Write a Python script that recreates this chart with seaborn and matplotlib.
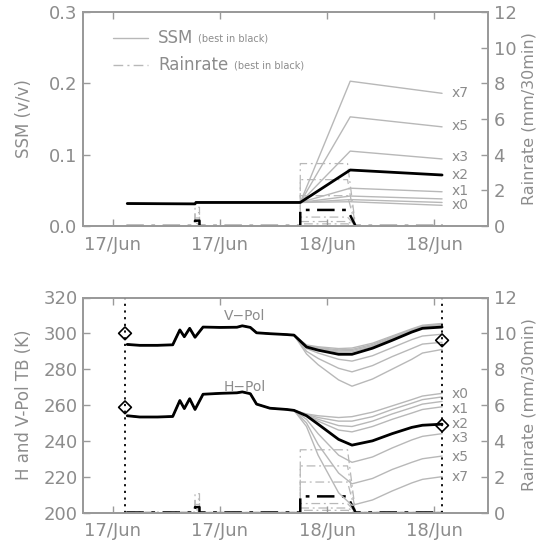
import numpy as np
import pandas as pd
import matplotlib
matplotlib.use('Agg')
import matplotlib.pyplot as plt
from matplotlib.lines import Line2D
import seaborn as sns

# time axis: hours since 17/Jun 00:00
tick_hours = [0, 12, 24, 36]
tick_labels = ['17/Jun', '17/Jun', '18/Jun', '18/Jun']

factors = ['x0', 'x0.25', 'x0.5', 'x1', 'x2', 'x3', 'x5', 'x7']
best = 'x2'
labelled = ['x0', 'x1', 'x2', 'x3', 'x5', 'x7']

# --- SSM (v/v)
ssm_t = [1.6, 9.2, 9.3, 21.0, 26.6, 36.9]
ssm = {
    'x0':    [0.0315, 0.031, 0.033, 0.033, 0.034, 0.029],
    'x0.25': [0.0315, 0.031, 0.033, 0.033, 0.037, 0.033],
    'x0.5':  [0.0315, 0.031, 0.033, 0.033, 0.042, 0.038],
    'x1':    [0.0315, 0.031, 0.033, 0.033, 0.053, 0.048],
    'x2':    [0.0315, 0.031, 0.033, 0.033, 0.0785, 0.0715],
    'x3':    [0.0315, 0.031, 0.033, 0.033, 0.105, 0.094],
    'x5':    [0.0315, 0.031, 0.033, 0.033, 0.153, 0.139],
    'x7':    [0.0315, 0.031, 0.033, 0.033, 0.203, 0.186],
}

# --- rainrate (mm/30min): small shower ~9h, storm 21h-26h
rain_t = [1.5, 9.2, 9.2, 9.7, 9.7, 21.0, 21.0, 26.3, 27.2, 37.0]
rain_early = {'x0': 0.0, 'x0.25': 0.04, 'x0.5': 0.08, 'x1': 0.15, 'x2': 0.3,
              'x3': 0.45, 'x5': 0.75, 'x7': 1.05}
rain_storm = {'x0': 0.0, 'x0.25': 0.12, 'x0.5': 0.25, 'x1': 0.5, 'x2': 0.9,
              'x3': 1.7, 'x5': 2.6, 'x7': 3.5}

# --- brightness temperatures (K), same for all runs before the storm
pre_t = [1.6, 3.0, 5.0, 6.7, 7.5, 8.0, 8.6, 9.2, 10.1, 12.0, 13.9, 14.5, 15.4, 16.1, 17.6, 19.5]
v_pre = [293.8, 293.3, 293.3, 293.6, 301.9, 298.1, 302.8, 297.8, 303.5, 303.3, 303.4, 304.2, 303.3, 300.3, 299.8, 299.3]
h_pre = [254.0, 253.3, 253.3, 253.6, 262.5, 258.0, 263.5, 257.5, 266.0, 266.5, 266.8, 267.3, 266.3, 260.5, 258.2, 257.5]

post_t = [20.3, 21.7, 23.0, 25.3, 26.8, 29.1, 31.3, 33.5, 34.7, 36.9]
v_post = {
    'x0':    [299, 293.5, 292.5, 291.5, 291.8, 294.5, 298.5, 302.5, 304.5, 305.5],
    'x0.25': [299, 293.2, 292.0, 290.8, 291.0, 293.8, 298.0, 302.0, 304.0, 305.2],
    'x0.5':  [299, 293.0, 291.6, 290.2, 290.4, 293.2, 297.5, 301.7, 303.7, 304.9],
    'x1':    [299, 292.8, 291.2, 289.5, 289.6, 292.6, 297.0, 301.3, 303.3, 304.5],
    'x2':    [299, 292.4, 290.6, 288.3, 288.3, 291.7, 296.1, 300.7, 302.8, 303.5],
    'x3':    [299, 291.5, 289.0, 285.5, 284.5, 287.5, 292.0, 296.5, 298.5, 299.5],
    'x5':    [299, 290.0, 286.0, 280.5, 278.5, 282.0, 287.0, 291.5, 294.0, 295.0],
    'x7':    [299, 288.5, 282.5, 274.0, 270.5, 274.5, 280.0, 285.5, 289.0, 291.0],
}
h_post = {
    'x0':    [257, 255.0, 254.0, 253.0, 253.5, 256.0, 259.5, 263.0, 265.0, 266.5],
    'x0.25': [257, 254.8, 253.0, 251.0, 251.0, 253.5, 257.5, 261.0, 263.0, 264.5],
    'x0.5':  [257, 254.5, 252.0, 248.5, 248.0, 251.0, 255.0, 258.5, 260.5, 262.0],
    'x1':    [257, 254.3, 251.0, 246.0, 245.0, 248.0, 252.0, 255.5, 257.5, 259.0],
    'x2':    [257, 254.0, 249.3, 240.8, 237.6, 240.0, 244.0, 247.5, 248.7, 249.3],
    'x3':    [257, 252.0, 244.0, 232.0, 228.0, 231.0, 236.0, 240.5, 242.5, 244.0],
    'x5':    [257, 250.0, 238.0, 222.0, 216.0, 219.0, 224.0, 228.0, 230.0, 231.5],
    'x7':    [257, 248.0, 232.0, 211.0, 204.0, 207.0, 212.0, 216.5, 218.5, 220.0],
}

# observations (diamonds)
obs_t = [1.35, 36.9]
obs_v = [300.0, 296.1]
obs_h = [258.7, 248.6]

# ------------------------------------------------------------------
sns.set_theme(style='white')
txt = '#8c8c8c'
edge = '#9a9a9a'
grey = '#b8b8b8'
plt.rcParams['font.family'] = ['DejaVu Sans']
plt.rcParams['text.color'] = txt
plt.rcParams['axes.labelcolor'] = txt
plt.rcParams['xtick.color'] = edge
plt.rcParams['ytick.color'] = edge
plt.rcParams['xtick.labelcolor'] = txt
plt.rcParams['ytick.labelcolor'] = txt

dashdot = (0, (7, 3, 1.5, 3))

fig = plt.figure(figsize=(5.39, 5.42), dpi=100)
W, H = 539, 542
L, R = 83 / W, 488 / W
ax1 = fig.add_axes([L, 1 - 226 / H, R - L, (226 - 12) / H])
ax2 = fig.add_axes([L, 1 - 512.5 / H, R - L, (512.5 - 297.5) / H])


def style_axes(ax, rax):
    ax.set_xlim(-3.36, 42.05)
    ax.set_xticks(tick_hours)
    ax.set_xticklabels(tick_labels)
    for a in (ax, rax):
        for s in a.spines.values():
            s.set_color(edge)
            s.set_linewidth(1.3)
    ax.tick_params(axis='x', direction='in', length=5, width=1, top=True, bottom=True,
                   labelsize=13, pad=7)
    ax.tick_params(axis='y', direction='in', length=5, width=1, left=True, right=False,
                   labelsize=13, pad=4)
    rax.tick_params(axis='y', direction='in', length=5, width=1, right=True,
                    labelsize=13, pad=4)
    rax.set_ylim(0, 12)
    rax.set_yticks([0, 2, 4, 6, 8, 10, 12])
    rax.set_ylabel('Rainrate (mm/30min)', fontsize=11.5, color=txt)
    rax.yaxis.set_label_coords(1.082, 0.5)
    ax.set_xlabel('')


def draw_rain(rax):
    for f in factors:
        e, s = rain_early[f], rain_storm[f]
        vals = [0, 0, e, e, 0, 0, s, s, 0, 0]
        if f == best:
            continue
        sns.lineplot(x=rain_t, y=vals, ax=rax, color=grey, lw=0.9, linestyle=dashdot,
                     estimator=None, sort=False, legend=False)
    e, s = rain_early[best], rain_storm[best]
    sns.lineplot(x=rain_t, y=[0, 0, e, e, 0, 0, s, s, 0, 0], ax=rax, color='black',
                 lw=1.8, linestyle=dashdot, estimator=None, sort=False, legend=False)


# ---------------- top panel: SSM
rax1 = ax1.twinx()
style_axes(ax1, rax1)
draw_rain(rax1)
for f in factors:
    if f == best:
        continue
    sns.lineplot(x=ssm_t, y=ssm[f], ax=ax1, color=grey, lw=1.0,
                 estimator=None, sort=False, legend=False)
sns.lineplot(x=ssm_t, y=ssm[best], ax=ax1, color='black', lw=2.0,
             estimator=None, sort=False, legend=False)
ax1.set_ylim(0, 0.3)
ax1.set_yticks([0.0, 0.1, 0.2, 0.3])
ax1.set_yticklabels(['0.0', '0.1', '0.2', '0.3'])
ax1.set_ylabel('SSM (v/v)', fontsize=12)
ax1.yaxis.set_label_coords(-0.123, 0.5)
ax1.set_zorder(rax1.get_zorder() + 1)
ax1.patch.set_visible(False)

top_lab_y = {'x7': 0.1865, 'x5': 0.140, 'x3': 0.0968, 'x2': 0.0715, 'x1': 0.049, 'x0': 0.0295}
for f in labelled:
    ax1.text(38.0, top_lab_y[f], f, fontsize=10, va='center', ha='left', color=txt)

# legend
ax1.add_line(Line2D([0.074, 0.16], [0.878, 0.878], transform=ax1.transAxes, color=grey, lw=1.0))
ax1.add_line(Line2D([0.074, 0.16], [0.752, 0.752], transform=ax1.transAxes, color=grey, lw=1.0,
                    linestyle=dashdot))
ax1.text(0.185, 0.878, 'SSM', transform=ax1.transAxes, fontsize=12, va='center', color=txt)
ax1.text(0.285, 0.874, '(best in black)', transform=ax1.transAxes, fontsize=7, va='center', color=txt)
ax1.text(0.185, 0.752, 'Rainrate', transform=ax1.transAxes, fontsize=12, va='center', color=txt)
ax1.text(0.372, 0.748, '(best in black)', transform=ax1.transAxes, fontsize=7, va='center', color=txt)

# ---------------- bottom panel: TB
rax2 = ax2.twinx()
style_axes(ax2, rax2)
draw_rain(rax2)
for f in factors:
    if f == best:
        continue
    for pre, post in ((v_pre, v_post), (h_pre, h_post)):
        sns.lineplot(x=pre_t + post_t, y=pre + post[f], ax=ax2, color=grey, lw=1.0,
                     estimator=None, sort=False, legend=False)
for pre, post in ((v_pre, v_post), (h_pre, h_post)):
    sns.lineplot(x=pre_t + post_t, y=pre + post[best], ax=ax2, color='black', lw=2.0,
                 estimator=None, sort=False, legend=False)
for t in obs_t:
    ax2.axvline(t, color='black', lw=1.3, linestyle=(0, (1.2, 2.5)))
obs = pd.DataFrame({'t': obs_t + obs_t, 'tb': obs_v + obs_h})
sns.scatterplot(data=obs, x='t', y='tb', ax=ax2, marker='D', s=42, facecolor='none',
                edgecolor='black', linewidth=1.2, zorder=5, legend=False)
ax2.set_ylim(200, 320)
ax2.set_yticks([200, 220, 240, 260, 280, 300, 320])
ax2.set_ylabel('H and V-Pol TB (K)', fontsize=12)
ax2.yaxis.set_label_coords(-0.123, 0.5)
ax2.set_xlabel('')
ax2.set_zorder(rax2.get_zorder() + 1)
ax2.patch.set_visible(False)

ax2.text(14.8, 309.7, 'V\u2212Pol', fontsize=10, ha='center', va='center', color=txt)
ax2.text(14.8, 270.0, 'H\u2212Pol', fontsize=10, ha='center', va='center', color=txt)
bot_lab_y = {'x0': 266.1, 'x1': 257.7, 'x2': 249.3, 'x3': 241.5, 'x5': 230.9, 'x7': 219.7}
for f in labelled:
    ax2.text(38.0, bot_lab_y[f], f, fontsize=10, va='center', ha='left', color=txt)

fig.savefig('out.png', dpi=100)
